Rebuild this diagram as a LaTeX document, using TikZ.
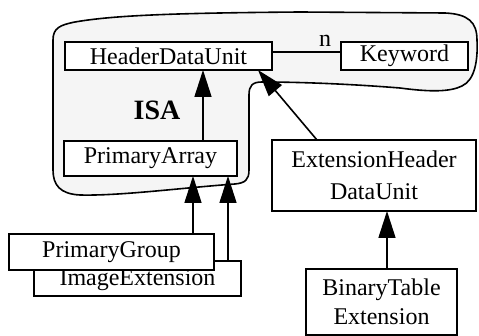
\documentclass[tikz,border=0pt]{standalone}
\usepackage{fontspec}
\setmainfont{Liberation Serif}
\usetikzlibrary{arrows.meta}
\tikzset{
  box/.style={draw=black, fill=white, line width=0.8pt, inner sep=0pt, outer sep=0pt, align=center,
    font=\fontsize{12}{16}\selectfont},
  isa/.style={-{Triangle[length=13.5pt,width=8.5pt]}, line width=0.8pt},
  blob/.style={draw=black, fill=black!4, line width=0.8pt},
}
\begin{document}
\begin{tikzpicture}[x=0.5pt,y=-0.5pt]
\useasboundingbox (0,0) rectangle (479,336);
% ISA region
\path[blob] (53,40) .. controls (53,28) and (60,25) .. (75,22)
  .. controls (115,15) and (180,13) .. (300,12)
  -- (445,13) .. controls (468,14) and (477,22) .. (477,40)
  .. controls (478,60) and (475,80) .. (462,86)
  .. controls (450,92) and (430,92) .. (400,88)
  .. controls (350,84) and (300,82) .. (262,82)
  .. controls (252,82) and (249,86) .. (249,95)
  -- (249,170)
  .. controls (249,180) and (245,183) .. (235,184)
  .. controls (180,188) and (120,196) .. (80,195)
  .. controls (60,194) and (53,185) .. (53,170)
  -- cycle;
\node (isa) at (157,110) {\fontsize{14}{16}\selectfont\bfseries ISA};
% nodes
\node[box, minimum width=103.5pt, minimum height=14pt] (hdu) at (168.5,56) {HeaderDataUnit};
\node[box, minimum width=63.5pt, minimum height=14pt] (kw) at (404.5,56) {Keyword};
\node[box, minimum width=86.5pt, minimum height=17.5pt] (pa) at (150.5,158.5) {PrimaryArray};
\node[box, minimum width=102pt, minimum height=35.5pt] (ehdu) at (374,175.5) {ExtensionHeader\\DataUnit};
\node[box, minimum width=75.5pt, minimum height=33pt, font=\fontsize{12}{14.5}\selectfont] (bte) at (381.5,302) {BinaryTable\\Extension};
\node[box, minimum width=103.5pt, minimum height=17.5pt, text height=8.5pt, text depth=1pt] (ie) at (137.5,278.5) {ImageExtension};
\node[box, minimum width=102.5pt, minimum height=18pt] (pg) at (111.5,252) {PrimaryGroup};
% connectors
\draw[line width=0.8pt] ([yshift=2pt]hdu.east) -- node[pos=0.77, above=-1pt, font=\fontsize{12}{14}\selectfont] (n) {n} ([yshift=2pt]kw.west);
\draw[isa] ([xshift=26.25pt]pa.north) -- ([xshift=17.25pt]hdu.south);
\draw[isa] ([xshift=-28.5pt]ehdu.north) -- ([xshift=44.75pt]hdu.south);
\draw[isa] ([xshift=40.75pt]pg.north) -- ([xshift=21.25pt]pa.south);
\draw[isa] ([xshift=45.25pt]ie.north) -- ([xshift=38.75pt]pa.south);
\draw[isa] ([xshift=2.75pt]bte.north) -- ([xshift=6.5pt]ehdu.south);
\end{tikzpicture}
\end{document}
